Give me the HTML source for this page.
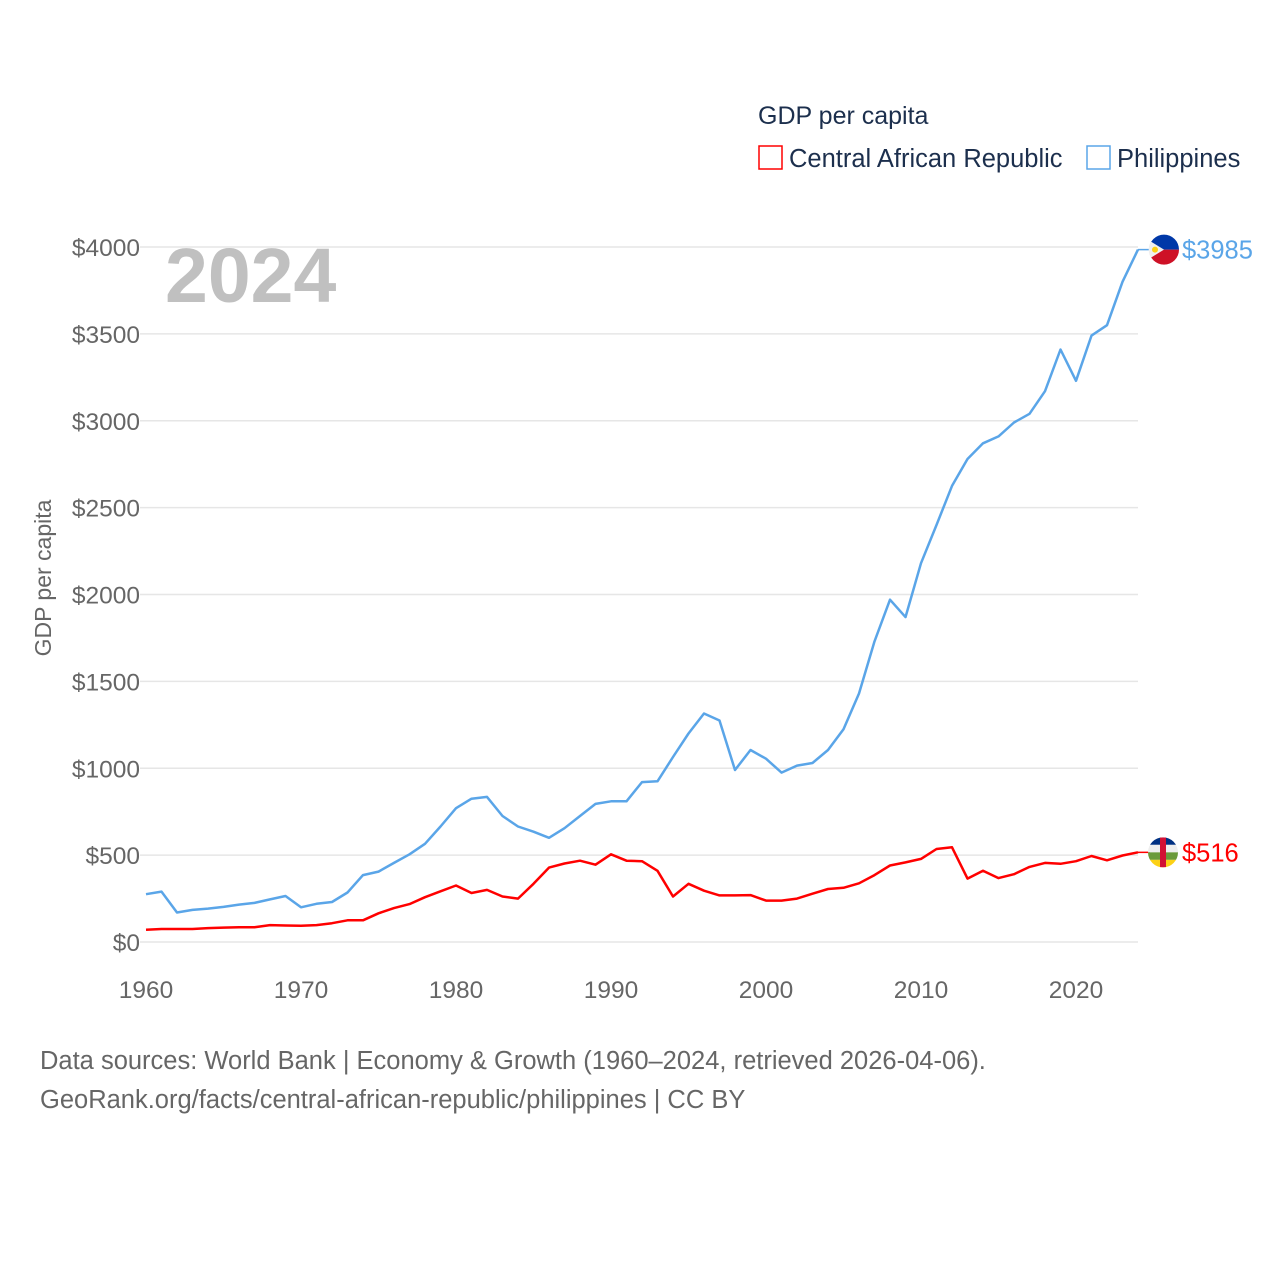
<!DOCTYPE html>
<html><head><meta charset="utf-8"><style>
body{margin:0;background:#fff;width:1280px;height:1280px;overflow:hidden;font-family:"Liberation Sans",sans-serif}
</style></head><body>
<svg id="chart" width="1280" height="1280" xmlns="http://www.w3.org/2000/svg" font-family="Liberation Sans, sans-serif">
<text x="758" y="124" font-size="25" fill="#1c2f4d">GDP per capita</text>
<g><rect x="759" y="146" width="23" height="23" fill="none" stroke="#ff0000" stroke-width="1.5"/><text x="789" y="167" font-size="25.5" fill="#1c2f4d">Central African Republic</text></g>
<g><rect x="1087" y="146" width="23" height="23" fill="none" stroke="#5aa5e8" stroke-width="1.5"/><text x="1117" y="167" font-size="25.5" fill="#1c2f4d">Philippines</text></g>
<text x="165" y="302" font-size="77" font-weight="bold" fill="#c0c0c0">2024</text>
<text transform="translate(51,578) rotate(-90)" text-anchor="middle" font-size="23" fill="#666">GDP per capita</text>
<g id="grid"></g><g id="ylabels"></g><g id="xlabels"></g><g id="lines"></g>
<text x="40" y="1069" font-size="25.5" fill="#666">Data sources: World Bank | Economy &amp; Growth (1960–2024, retrieved 2026-04-06).</text>
<text x="40" y="1108" font-size="25.5" fill="#666">GeoRank.org/facts/central-african-republic/philippines | CC BY</text>
</svg>
<script>
const years=[];for(let y=1960;y<=2024;y++)years.push(y);
const phl=[275,290,170,185,192,202,215,225,245,265,200,220,230,285,385,405,455,505,565,665,770,825,835,725,665,635,600,655,725,795,810,810,920,925,1065,1200,1315,1275,990,1105,1055,975,1015,1030,1105,1225,1430,1730,1970,1870,2180,2400,2625,2780,2870,2910,2990,3040,3170,3410,3230,3490,3550,3800,3985];
const caf=[70,75,75,75,80,83,85,85,97,95,93,97,108,125,125,165,195,218,258,292,325,282,300,262,250,335,428,452,468,445,505,468,465,410,262,335,295,268,268,270,238,238,250,278,305,312,338,385,440,458,478,535,545,365,410,368,390,432,455,450,465,495,470,498,516];
const yTicks=[0,500,1000,1500,2000,2500,3000,3500,4000];
const xTicks=[1960,1970,1980,1990,2000,2010,2020];
const NS="http://www.w3.org/2000/svg";
const X=y=>146+(y-1960)*15.5;
const Y=v=>942-v*0.17375;
function mk(t,a,p){const e=document.createElementNS(NS,t);for(const k in a)e.setAttribute(k,a[k]);p.appendChild(e);return e;}
const grid=document.getElementById('grid'),yl=document.getElementById('ylabels'),xl=document.getElementById('xlabels'),ln=document.getElementById('lines');
yTicks.forEach(v=>{
 const l=mk('line',{x1:140,x2:1138,y1:Y(v),y2:Y(v),stroke:'#e6e6e6','stroke-width':1.5},grid);
 
 
 const t=mk('text',{x:140,y:Y(v)+9,'text-anchor':'end','font-size':24.5,fill:'#666'},yl);t.textContent='$'+v;
 
 
});
xTicks.forEach(v=>{
 const t=mk('text',{x:X(v),y:998,'text-anchor':'middle','font-size':24.5,fill:'#666'},xl);t.textContent=v;
 
 
});
function series(vals,color,name){
 const d=vals.map((v,i)=>(i?'L':'M')+X(years[i]).toFixed(1)+' '+Y(v).toFixed(1)).join(' ');
 const p=mk('path',{d:d,fill:'none',stroke:color,'stroke-width':2.5,'stroke-linejoin':'round'},ln);
 
 
 const last=vals[vals.length-1],ly=Y(last);
 mk('line',{x1:1138,x2:1150,y1:ly,y2:ly,stroke:color,'stroke-width':1.5},ln);
 const t=mk('text',{x:1182,y:ly+9,'font-size':25.5,fill:color},ln);t.textContent='$'+last;
 
 
 return ly;
}
const py=series(phl,'#5aa5e8','philippines');
const cy=series(caf,'#ff0000','car');
const g1=mk('g',{},ln);


mk('path',{d:`M1149 ${py} A15 15 0 0 1 1179 ${py} Z`,fill:'#0038a8'},g1);
mk('path',{d:`M1149 ${py} A15 15 0 0 0 1179 ${py} Z`,fill:'#ce1126'},g1);
mk('path',{d:`M${1164-13} ${py-8} L1164 ${py} L${1164-13} ${py+8} A15 15 0 0 1 ${1164-13} ${py-8} Z`,fill:'#f0f0f0'},g1);
mk('circle',{cx:1155,cy:py,r:3,fill:'#fcd116'},g1);
const g2=mk('g',{},ln);


mk('clipPath',{id:'cc'},g2);
mk('circle',{cx:1163,cy:cy,r:15},document.getElementById('cc'));
const cols=['#003082','#eeeeee','#6a9a3a','#fcd116'];
cols.forEach((c,i)=>mk('rect',{x:1148,y:cy-15+i*7.5,width:30,height:7.5,fill:c,'clip-path':'url(#cc)'},g2));
mk('rect',{x:1160,y:cy-15,width:6,height:30,fill:'#d21034','clip-path':'url(#cc)'},g2);
</script>
</body></html>
